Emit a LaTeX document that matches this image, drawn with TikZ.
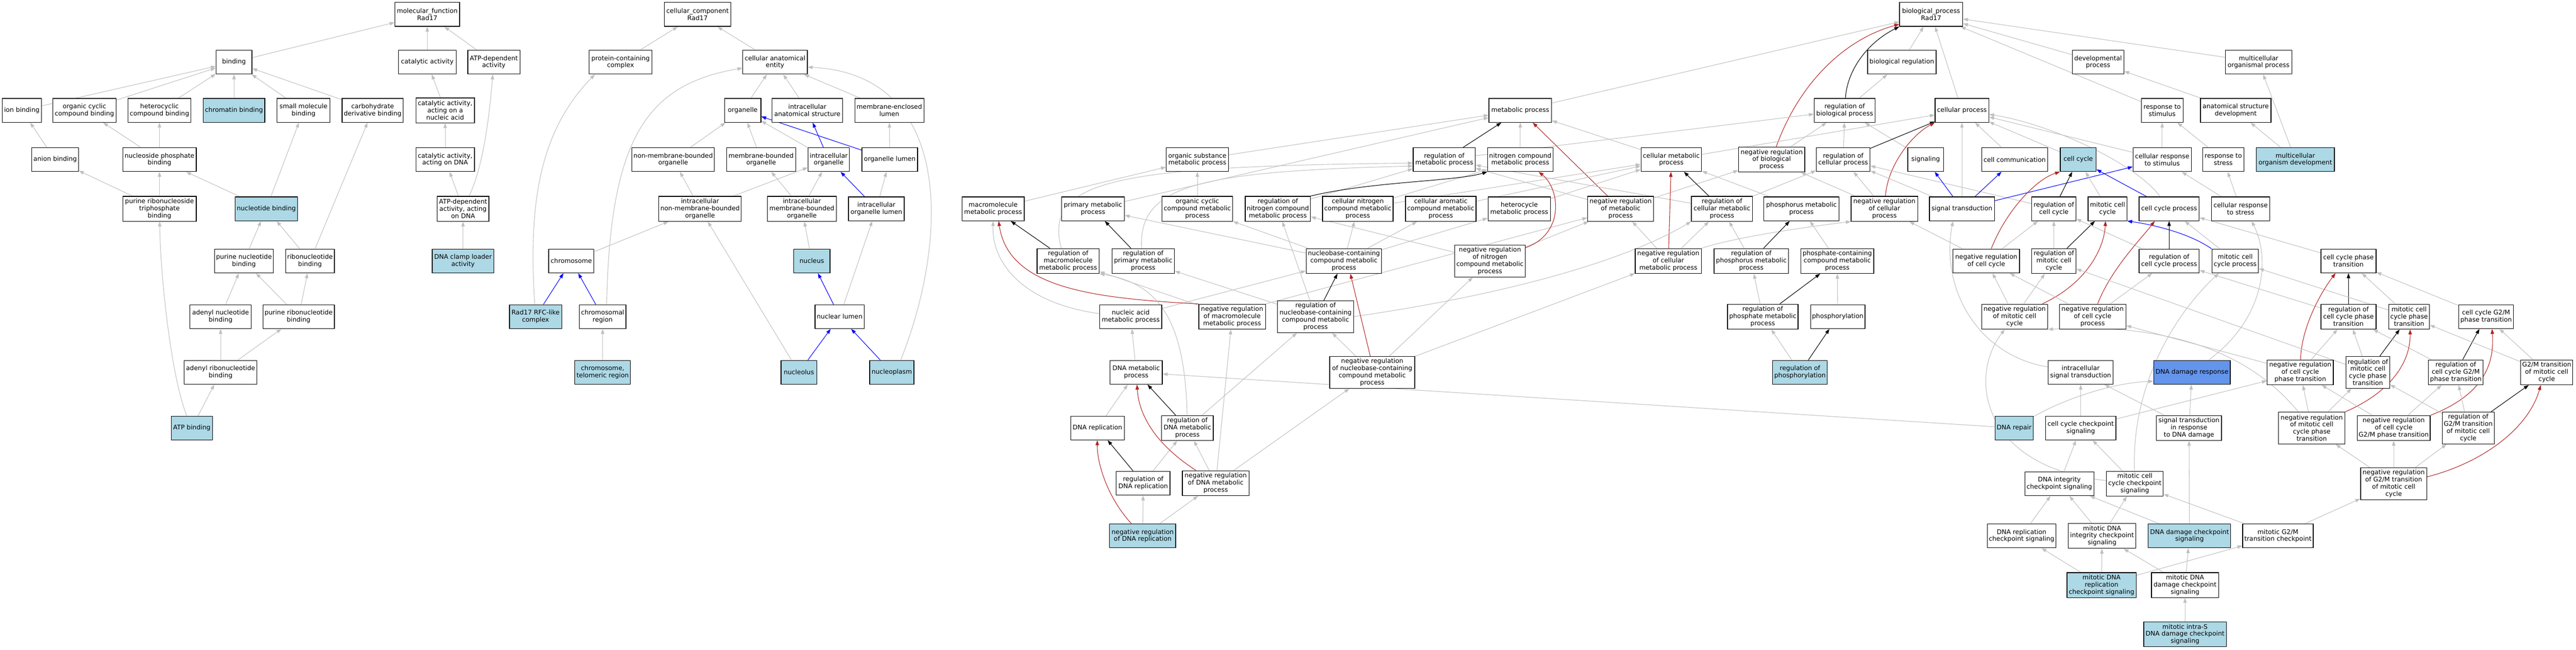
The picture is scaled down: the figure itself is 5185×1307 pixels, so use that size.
\documentclass[tikz,border=0pt]{standalone}
\usepackage{fontspec}
\setmainfont{DejaVu Sans}
\usepackage{tikz}
\usetikzlibrary{arrows.meta}
\usetikzlibrary{backgrounds}
\usetikzlibrary{positioning}
\definecolor{edgegray}{HTML}{C0C0C0}
\definecolor{hitblue}{HTML}{ADD8E6}
\definecolor{ddrblue}{HTML}{6495ED}
\definecolor{negred}{HTML}{B22222}
\newcommand{\gofont}{\fontsize{12.8}{14.4}\selectfont}
\tikzset{
  term/.style={draw, rectangle, fill=white, line width=1.3pt, align=center, font=\gofont,
    minimum height=48pt, inner xsep=3pt, inner ysep=3pt},
  hit/.style={term, fill=hitblue},
  wd/.style={minimum width=#1pt},
  three/.style={minimum height=50pt},
  four/.style={minimum height=64pt},
  isa/.style={draw=edgegray, line width=1.1pt, -{Triangle[length=10pt,width=7pt]}},
  partof/.style={isa, draw=blue},
  regs/.style={isa, draw=black},
  negregs/.style={isa, draw=negred}
}
\begin{document}
\begin{tikzpicture}[x=1pt, y=-1pt]
  \useasboundingbox (0,0) rectangle (5185,1307);

  % molecular function
  \node[term, wd=130] (mf) at (860,29) {molecular\_function\\Rad17};
  \node[term, wd=72] (binding) at (471,125) {binding};
  \node[term, wd=116] (catact) at (860,125) {catalytic activity};
  \node[term, wd=105] (atpdep) at (994,125) {ATP-dependent\\activity};
  \node[term, wd=79] (ionb) at (44,222) {ion binding};
  \node[term, wd=127] (orgcycb) at (170,222) {organic cyclic\\compound binding};
  \node[term, wd=126] (hetcycb) at (321,222) {heterocyclic\\compound binding};
  \node[hit, wd=124] (chromb) at (471,222) {chromatin binding};
  \node[term, wd=107] (smallmolb) at (611,222) {small molecule\\binding};
  \node[term, wd=123] (carbob) at (750,222) {carbohydrate\\derivative binding};
  \node[term, three, wd=118] (catnuc) at (896,222) {catalytic activity,\\acting on a\\nucleic acid};
  \node[term, wd=94] (anionb) at (111,321) {anion binding};
  \node[term, wd=148] (nucphosb) at (321,321) {nucleoside phosphate\\binding};
  \node[term, wd=118] (catdna) at (896,321) {catalytic activity,\\acting on DNA};
  \node[term, three, wd=148] (purtrib) at (321,420) {purine ribonucleoside\\triphosphate\\binding};
  \node[hit, wd=126] (nucleotideb) at (536,420) {nucleotide binding};
  \node[term, three, wd=104] (atpdna) at (932,420) {ATP-dependent\\activity, acting\\on DNA};
  \node[term, wd=118] (purnucb) at (491,525) {purine nucleotide\\binding};
  \node[term, wd=98] (ribonucb) at (624,525) {ribonucleotide\\binding};
  \node[hit, wd=124] (clamp) at (932,525) {DNA clamp loader\\activity};
  \node[term, wd=123] (adenylb) at (444,637) {adenyl nucleotide\\binding};
  \node[term, wd=144] (purribob) at (601,637) {purine ribonucleotide\\binding};
  \node[term, wd=146] (adenribob) at (444,749) {adenyl ribonucleotide\\binding};
  \node[hit, wd=83] (atpb) at (386,861) {ATP binding};

  % cellular component
  \node[term, wd=134] (cc) at (1404,29) {cellular\_component\\Rad17};
  \node[term, wd=126] (protcomp) at (1249,125) {protein-containing\\complex};
  \node[term, wd=130] (cae) at (1560,125) {cellular anatomical\\entity};
  \node[term, wd=73] (organelle) at (1495,222) {organelle};
  \node[term, wd=142] (ias) at (1625,222) {intracellular\\anatomical structure};
  \node[term, wd=139] (mel) at (1790,222) {membrane-enclosed\\lumen};
  \node[term, wd=166] (nmbo) at (1355,321) {non-membrane-bounded\\organelle};
  \node[term, wd=139] (mbo) at (1532,321) {membrane-bounded\\organelle};
  \node[term, wd=83] (intorg) at (1668,321) {intracellular\\organelle};
  \node[term, wd=112] (orglumen) at (1791,321) {organelle lumen};
  \node[term, three, wd=166] (inmbo) at (1409,420) {intracellular\\non-membrane-bounded\\organelle};
  \node[term, three, wd=139] (imbo) at (1614,420) {intracellular\\membrane-bounded\\organelle};
  \node[term, wd=112] (iol) at (1764,420) {intracellular\\organelle lumen};
  \node[term, wd=91] (chromosome) at (1150,525) {chromosome};
  \node[hit, wd=73] (nucleus) at (1634,525) {nucleus};
  \node[hit, wd=105] (rfc) at (1078,637) {Rad17 RFC-like\\complex};
  \node[term, wd=94] (chromreg) at (1213,637) {chromosomal\\region};
  \node[term, wd=99] (nuclumen) at (1690,637) {nuclear lumen};
  \node[hit, wd=112] (telomeric) at (1213,749) {chromosome,\\telomeric region};
  \node[hit, wd=72] (nucleolus) at (1608,749) {nucleolus};
  \node[hit, wd=89] (nucleoplasm) at (1795,749) {nucleoplasm};

  % biological process
  \node[term, wd=127] (bp) at (3887,29) {biological\_process\\Rad17};
  \node[term, wd=138] (bioreg) at (3828,125) {biological regulation};
  \node[term, wd=104] (devproc) at (4223,125) {developmental\\process};
  \node[term, wd=134] (mop) at (4546,125) {multicellular\\organismal process};
  \node[term, wd=126] (metab) at (3060,222) {metabolic process};
  \node[term, wd=123] (regbp) at (3713,222) {regulation of\\biological process};
  \node[term, wd=108] (cellproc) at (3949,222) {cellular process};
  \node[term, wd=84] (respstim) at (4352,222) {response to\\stimulus};
  \node[term, wd=142] (asd) at (4500,222) {anatomical structure\\development};
  \node[term, wd=125] (osmp) at (2410,321) {organic substance\\metabolic process};
  \node[term, wd=125] (regmp) at (2907,321) {regulation of\\metabolic process};
  \node[term, wd=131] (ncmp) at (3060,321) {nitrogen compound\\metabolic process};
  \node[term, wd=122] (cmp) at (3364,321) {cellular metabolic\\process};
  \node[term, three, wd=133] (nrbp) at (3566,321) {negative regulation\\of biological\\process};
  \node[term, wd=108] (regcp) at (3710,321) {regulation of\\cellular process};
  \node[term, wd=72] (signaling) at (3876,321) {signaling};
  \node[term, wd=133] (cellcomm) at (4055,321) {cell communication};
  \node[hit, wd=72] (cellcycle) at (4183,321) {cell cycle};
  \node[term, wd=117] (crstim) at (4352,321) {cellular response\\to stimulus};
  \node[term, wd=83] (respstress) at (4475,321) {response to\\stress};
  \node[hit, wd=157] (mod) at (4620,321) {multicellular\\organism development};

  \node[term, wd=125] (mmp) at (1999,420) {macromolecule\\metabolic process};
  \node[term, wd=126] (pmp) at (2200,420) {primary metabolic\\process};
  \node[term, three, wd=142] (occmp) at (2410,420) {organic cyclic\\compound metabolic\\process};
  \node[term, three, wd=131] (regncmp) at (2572,420) {regulation of\\nitrogen compound\\metabolic process};
  \node[term, three, wd=142] (cncmp) at (2733,420) {cellular nitrogen\\compound metabolic\\process};
  \node[term, three, wd=142] (cacmp) at (2900,420) {cellular aromatic\\compound metabolic\\process};
  \node[term, wd=126] (hetmp) at (3058,420) {heterocycle\\metabolic process};
  \node[term, three, wd=133] (nrmp) at (3262,420) {negative regulation\\of metabolic\\process};
  \node[term, three, wd=123] (regcmp) at (3466,420) {regulation of\\cellular metabolic\\process};
  \node[term, wd=151] (phosmp) at (3626,420) {phosphorus metabolic\\process};
  \node[term, three, wd=134] (nrcp) at (3793,420) {negative regulation\\of cellular\\process};
  \node[term, wd=131] (sigtrans) at (3949,420) {signal transduction};
  \node[term, wd=89] (regcc) at (4134,420) {regulation of\\cell cycle};
  \node[term, wd=78] (mcc) at (4242,420) {mitotic cell\\cycle};
  \node[term, wd=121] (ccp) at (4366,420) {cell cycle process};
  \node[term, wd=117] (crstress) at (4510,420) {cellular response\\to stress};

  \node[term, three, wd=125] (regmmp) at (2150,525) {regulation of\\macromolecule\\metabolic process};
  \node[term, three, wd=126] (regpmp) at (2301,525) {regulation of\\primary metabolic\\process};
  \node[term, three, wd=152] (nbcmp) at (2705,525) {nucleobase-containing\\compound metabolic\\process};
  \node[term, four, wd=142] (nrncmp) at (2999,525) {negative regulation\\of nitrogen\\compound metabolic\\process};
  \node[term, three, wd=133] (nrcmp) at (3358,525) {negative regulation\\of cellular\\metabolic process};
  \node[term, three, wd=150] (regphosmp) at (3525,525) {regulation of\\phosphorus metabolic\\process};
  \node[term, three, wd=147] (pccmp) at (3698,525) {phosphate-containing\\compound metabolic\\process};
  \node[term, wd=134] (nrcc) at (3998,525) {negative regulation\\of cell cycle};
  \node[term, three, wd=89] (regmcc) at (4134,525) {regulation of\\mitotic cell\\cycle};
  \node[term, wd=121] (regccp) at (4366,525) {regulation of\\cell cycle process};
  \node[term, wd=94] (mccp) at (4499,525) {mitotic cell\\cycle process};
  \node[term, wd=111] (ccpt) at (4727,525) {cell cycle phase\\transition};

  \node[term, wd=125] (namp) at (2276,637) {nucleic acid\\metabolic process};
  \node[term, three, wd=134] (nrmmp) at (2480,637) {negative regulation\\of macromolecule\\metabolic process};
  \node[term, four, wd=153] (regnbcmp) at (2648,637) {regulation of\\nucleobase-containing\\compound metabolic\\process};
  \node[term, three, wd=142] (regphatemp) at (3548,637) {regulation of\\phosphate metabolic\\process};
  \node[term, wd=109] (phosphorylation) at (3699,637) {phosphorylation};
  \node[term, three, wd=133] (nrmcc) at (4055,637) {negative regulation\\of mitotic cell\\cycle};
  \node[term, three, wd=134] (nrccp) at (4212,637) {negative regulation\\of cell cycle\\process};
  \node[term, three, wd=111] (regccpt) at (4727,637) {regulation of\\cell cycle phase\\transition};
  \node[term, three, wd=82] (mccpt) at (4849,637) {mitotic cell\\cycle phase\\transition};
  \node[term, wd=110] (g2m) at (5004,637) {cell cycle G2/M\\phase transition};

  \node[term, wd=105] (dnamp) at (2287,749) {DNA metabolic\\process};
  \node[term, four, wd=171] (nrnbcmp) at (2762,749) {negative regulation\\of nucleobase-containing\\compound metabolic\\process};
  \node[hit, wd=110] (regphos) at (3623,749) {regulation of\\phosphorylation};
  \node[term, wd=131] (ist) at (4188,749) {intracellular\\signal transduction};
  \node[term, fill=ddrblue, wd=154] (ddr) at (4412,749) {DNA damage response};
  \node[term, three, wd=133] (nrccpt) at (4630,749) {negative regulation\\of cell cycle\\phase transition};
  \node[term, four, wd=88] (regmccpt) at (4766,749) {regulation of\\mitotic cell\\cycle phase\\transition};
  \node[term, three, wd=110] (regg2m) at (4943,749) {regulation of\\cell cycle G2/M\\phase transition};
  \node[term, three, wd=105] (g2mmcc) at (5126,749) {G2/M transition\\of mitotic cell\\cycle};

  \node[term, wd=108] (dnarep) at (2209,861) {DNA replication};
  \node[term, three, wd=104] (regdnamp) at (2390,861) {regulation of\\DNA metabolic\\process};
  \node[hit, wd=77] (dnarepair) at (4054,861) {DNA repair};
  \node[term, wd=142] (cccs) at (4188,861) {cell cycle checkpoint\\signaling};
  \node[term, three, wd=131] (stdd) at (4406,861) {signal transduction\\in response\\to DNA damage};
  \node[term, four, wd=134] (nrmccpt) at (4653,861) {negative regulation\\of mitotic cell\\cycle phase\\transition};
  \node[term, three, wd=147] (nrg2m) at (4818,861) {negative regulation\\of cell cycle\\G2/M phase transition};
  \node[term, four, wd=105] (regg2mmcc) at (4968,861) {regulation of\\G2/M transition\\of mitotic cell\\cycle};

  \node[term, wd=108] (regdnarep) at (2301,972) {regulation of\\DNA replication};
  \node[term, three, wd=134] (nrdnamp) at (2447,972) {negative regulation\\of DNA metabolic\\process};
  \node[term, wd=139] (dics) at (4145,973) {DNA integrity\\checkpoint signaling};
  \node[term, three, wd=114] (mcccs) at (4297,973) {mitotic cell\\cycle checkpoint\\signaling};
  \node[term, four, wd=133] (nrg2mmcc) at (4818,973) {negative regulation\\of G2/M transition\\of mitotic cell\\cycle};

  \node[hit, wd=133] (nrdnarep) at (2300,1078) {negative regulation\\of DNA replication};
  \node[term, wd=137] (drcs) at (4069,1078) {DNA replication\\checkpoint signaling};
  \node[term, three, wd=136] (mdics) at (4231,1078) {mitotic DNA\\integrity checkpoint\\signaling};
  \node[hit, wd=166] (ddcs) at (4407,1078) {DNA damage checkpoint\\signaling};
  \node[term, wd=142] (mg2mcp) at (4585,1078) {mitotic G2/M\\transition checkpoint};

  \node[hit, three, wd=139] (mdrcs) at (4230,1177) {mitotic DNA\\replication\\checkpoint signaling};
  \node[term, three, wd=135] (mddcs) at (4398,1177) {mitotic DNA\\damage checkpoint\\signaling};
  \node[hit, three, wd=166] (mintras) at (4398,1276) {mitotic intra-S\\DNA damage checkpoint\\signaling};

  \begin{scope}[on background layer]
  % molecular function edges
  \draw[isa] (binding) -- (mf);
  \draw[isa] (catact) -- (mf);
  \draw[isa] (atpdep) -- (mf);
  \draw[isa] (ionb) -- (binding);
  \draw[isa] (orgcycb) -- (binding);
  \draw[isa] (hetcycb) -- (binding);
  \draw[isa] (chromb) -- (binding);
  \draw[isa] (smallmolb) -- (binding);
  \draw[isa] (carbob) -- (binding);
  \draw[isa] (anionb) -- (ionb);
  \draw[isa] (nucphosb) -- (orgcycb);
  \draw[isa] (nucphosb) -- (hetcycb);
  \draw[isa] (purtrib) -- (anionb);
  \draw[isa] (purtrib) -- (nucphosb);
  \draw[isa] (nucleotideb) -- (nucphosb);
  \draw[isa] (nucleotideb) -- (smallmolb);
  \draw[isa] (purnucb) -- (nucleotideb);
  \draw[isa] (ribonucb) -- (nucleotideb);
  \draw[isa] (ribonucb) -- (carbob);
  \draw[isa] (adenylb) -- (purnucb);
  \draw[isa] (purribob) -- (purnucb);
  \draw[isa] (purribob) -- (ribonucb);
  \draw[isa] (adenribob) -- (adenylb);
  \draw[isa] (adenribob) -- (purribob);
  \draw[isa] (atpb) -- (adenribob);
  \draw[isa] (atpb) .. controls (345,760) and (323,560) .. (purtrib);
  \draw[isa] (catnuc) -- (catact);
  \draw[isa] (catdna) -- (catnuc);
  \draw[isa] (atpdna) -- (catdna);
  \draw[isa] (atpdna) .. controls (975,330) and (986,220) .. (atpdep);
  \draw[isa] (clamp) -- (atpdna);

  % cellular component edges
  \draw[isa] (protcomp) -- (cc);
  \draw[isa] (cae) -- (cc);
  \draw[isa] (organelle) -- (cae);
  \draw[isa] (ias) -- (cae);
  \draw[isa] (mel) -- (cae);
  \draw[isa] ([xshift=18pt]nucleoplasm.north) .. controls (1910,480) and (1920,150) .. ([yshift=-10pt]cae.east);
  \draw[isa] (nmbo) -- (organelle);
  \draw[isa] (mbo) -- (organelle);
  \draw[isa] (intorg) -- (organelle);
  \draw[partof] (intorg) -- (ias);
  \draw[partof] (orglumen) -- (organelle);
  \draw[isa] (orglumen) -- (mel);
  \draw[isa] (inmbo) -- (nmbo);
  \draw[isa] (inmbo) -- (intorg);
  \draw[isa] (imbo) -- (mbo);
  \draw[isa] (imbo) -- (intorg);
  \draw[partof] (iol) -- (intorg);
  \draw[isa] (iol) -- (orglumen);
  \draw[isa] (chromosome) -- (inmbo);
  \draw[isa] (nucleus) -- (imbo);
  \draw[partof] (rfc) -- (chromosome);
  \draw[isa] (rfc) .. controls (1062,400) and (1090,260) .. ([xshift=12pt]protcomp.south west);
  \draw[partof] (chromreg) -- (chromosome);
  \draw[isa] ([xshift=8pt]chromreg.north) .. controls (1228,280) and (1300,170) .. ([yshift=-12pt]cae.west);
  \draw[partof] (nuclumen) -- (nucleus);
  \draw[isa] (nuclumen) -- (iol);
  \draw[isa] (telomeric) -- (chromreg);
  \draw[partof] (nucleolus) -- (nuclumen);
  \draw[isa] (nucleolus) -- (inmbo);
  \draw[partof] (nucleoplasm) -- (nuclumen);

  % biological process edges
  \draw[isa] (bioreg) -- (bp);
  \draw[isa] (cellproc) -- (bp);
  \draw[isa] (devproc) -- (bp);
  \draw[isa] (respstim) -- (bp);
  \draw[isa] (mop) -- (bp);
  \draw[isa] (metab) -- (bp);
  \draw[regs] (regbp) .. controls (3718,140) and (3760,85) .. (bp.south west);
  \draw[negregs] (nrbp) .. controls (3620,170) and (3710,80) .. ([yshift=5pt]bp.south west);
  \draw[isa] (regbp) -- (bioreg);
  \draw[isa] (nrbp) -- (regbp);
  \draw[isa] (regmp) -- (regbp);
  \draw[isa] (regcp) -- (regbp);
  \draw[isa] (signaling) -- (regbp);
  \draw[regs] (regcp) -- (cellproc);
  \draw[negregs] (nrcp) .. controls (3800,330) and (3850,270) .. (cellproc.south west);
  \draw[isa] (cmp) -- (cellproc);
  \draw[isa] (sigtrans) -- (cellproc);
  \draw[isa] (cellcomm) -- (cellproc);
  \draw[isa] (cellcycle) -- (cellproc);
  \draw[isa] (crstim) -- (cellproc);
  \draw[isa] (ccp) .. controls (4300,330) and (4130,250) .. ([yshift=-8pt]cellproc.east);
  \draw[isa] (osmp) -- (metab);
  \draw[isa] (pmp) -- (metab);
  \draw[isa] (ncmp) -- (metab);
  \draw[isa] (cmp) -- (metab);
  \draw[regs] (regmp) -- (metab);
  \draw[negregs] (nrmp) -- (metab);
  \draw[isa] (nrmp) -- (regmp);
  \draw[isa] (regcmp) -- (regmp);
  \draw[isa] ([xshift=-14pt]regmmp.north) .. controls (2100,360) and (2250,335) .. ([yshift=-7pt]regmp.west);
  \draw[isa] ([xshift=-3pt]regpmp.north) .. controls (2290,370) and (2420,345) .. ([yshift=-13pt]regmp.west);
  \draw[isa] (regncmp) -- (regmp);
  \draw[isa] (nrmp) -- (nrbp);
  \draw[isa] (nrcp) -- (nrbp);
  \draw[isa] (regcc) -- (regcp);
  \draw[isa] (sigtrans) -- (regcp);
  \draw[isa] (nrcp) -- (regcp);
  \draw[isa] (regcmp) -- (regcp);
  \draw[isa] (crstim) -- (respstim);
  \draw[isa] (respstress) -- (respstim);
  \draw[isa] (asd) -- (devproc);
  \draw[isa] (mod) -- (asd);
  \draw[isa] (mod) -- (mop);
  \draw[isa] (crstress) -- (crstim);
  \draw[isa] (crstress) -- (respstress);
  \draw[isa] (mmp) -- (osmp);
  \draw[isa] (occmp) -- (osmp);
  \draw[isa] (cncmp) -- (ncmp);
  \draw[isa] (cncmp) -- (cmp);
  \draw[isa] (cacmp) -- (cmp);
  \draw[isa] (hetmp) -- (cmp);
  \draw[isa] (phosmp) -- (cmp);
  \draw[regs] (regcmp) -- (cmp);
  \draw[regs] (regncmp.north east) .. controls (2760,365) and (2930,365) .. (ncmp.south west);
  \draw[negregs] (nrcmp) -- (cmp);
  \draw[isa] (nrcmp) -- (nrmp);
  \draw[isa] (nrcmp) -- (regcmp);
  \draw[isa] (nrcmp.north east) .. controls (3500,475) and (3650,455) .. (nrcp.south west);
  \draw[isa] (regphosmp) -- (regcmp);
  \draw[regs] (regphosmp) -- (phosmp);
  \draw[isa] (pccmp) -- (phosmp);
  \draw[regs] (regmmp) -- (mmp);
  \draw[regs] (regpmp) -- (pmp);
  \draw[isa] (nbcmp) -- (cncmp);
  \draw[isa] (nbcmp) -- (cacmp);
  \draw[isa] (nbcmp) -- (hetmp);
  \draw[isa] (nbcmp) -- (occmp);
  \draw[isa] (nbcmp) -- (pmp);
  \draw[isa] (namp) -- (nbcmp);
  \draw[isa] ([yshift=6pt]namp.west) .. controls (2060,610) and (1996,530) .. (mmp.south);
  \draw[isa] (nrmmp) -- (regmmp);
  \draw[isa] (nrmmp.north east) -- (nrmp);
  \draw[negregs] (nrmmp.north west) .. controls (2200,600) and (2030,580) .. ([xshift=11pt]mmp.south);
  \draw[regs] (regnbcmp) -- (nbcmp);
  \draw[isa] (regnbcmp) -- (regncmp);
  \draw[isa] (regnbcmp) -- (regpmp);
  \draw[isa] (regnbcmp.east) .. controls (3050,590) and (3280,520) .. (regcmp.south west);
  \draw[isa] (nrncmp) -- (nrmp);
  \draw[isa] (nrncmp) -- (regncmp);
  \draw[negregs] ([yshift=-6pt]nrncmp.north east) .. controls (3150,470) and (3140,380) .. ([xshift=37pt]ncmp.south);
  \draw[isa] (regphatemp) -- (regphosmp);
  \draw[regs] (regphatemp) -- (pccmp);
  \draw[isa] (phosphorylation) -- (pccmp);
  \draw[isa] (regphos) -- (regphatemp);
  \draw[regs] (regphos) -- (phosphorylation);
  \draw[isa] (nrnbcmp) -- (regnbcmp);
  \draw[isa] (nrnbcmp) -- (nrncmp);
  \draw[isa] (nrnbcmp) -- (nrcmp);
  \draw[negregs] ([xshift=-4pt]nrnbcmp.north) -- ([xshift=13pt]nbcmp.south);
  \draw[isa] (dnamp) -- (namp);
  \draw[isa] (dnarep) -- (dnamp);
  \draw[regs] (regdnamp) -- (dnamp);
  \draw[isa] (regdnamp) -- (regnbcmp);
  \draw[isa] (regdnamp) .. controls (2385,640) and (2330,570) .. (regmmp.south east);
  \draw[regs] (regdnarep) -- (dnarep);
  \draw[isa] (regdnarep) -- (regdnamp);
  \draw[isa] (nrdnamp) -- (regdnamp);
  \draw[isa] (nrdnamp) -- (nrmmp);
  \draw[isa] (nrdnamp) -- (nrnbcmp);
  \draw[negregs] (nrdnamp) .. controls (2320,890) and (2292,830) .. (dnamp);
  \draw[isa] (nrdnarep) -- (regdnarep);
  \draw[isa] (nrdnarep) -- (nrdnamp);
  \draw[negregs] (nrdnarep) .. controls (2228,1000) and (2208,930) .. (dnarep);
  \draw[isa] (dnarepair) -- (dnamp);
  \draw[isa] (dnarepair) .. controls (4150,805) and (4250,770) .. ([yshift=-18pt]ddr.west);

  % cell cycle and signalling edges
  \draw[partof] (sigtrans) -- (signaling);
  \draw[partof] (sigtrans) -- (cellcomm);
  \draw[partof] (sigtrans) -- (crstim);
  \draw[partof] (ccp) -- (cellcycle);
  \draw[isa] (mcc) -- (cellcycle);
  \draw[regs] (regcc) -- (cellcycle);
  \draw[negregs] (nrcc) .. controls (4040,420) and (4100,360) .. (cellcycle.south west);
  \draw[isa] (nrcc) -- (regcc);
  \draw[isa] (nrcc) -- (nrcp);
  \draw[regs] (regmcc) -- (mcc);
  \draw[isa] (regmcc) -- (regcc);
  \draw[regs] (regccp) -- (ccp);
  \draw[isa] (regccp) -- (regcc);
  \draw[isa] (mccp) -- (ccp);
  \draw[partof] (mccp.north west) .. controls (4400,465) and (4320,450) .. (mcc.south east);
  \draw[negregs] (nrmcc) .. controls (4200,570) and (4235,500) .. ([xshift=-4pt]mcc.south);
  \draw[isa] (nrmcc) -- (nrcc);
  \draw[isa] (nrmcc) -- (regmcc);
  \draw[negregs] (nrccp) .. controls (4250,540) and (4310,480) .. ([xshift=-29pt]ccp.south);
  \draw[isa] (nrccp) -- (nrcc);
  \draw[isa] (nrccp) -- (regccp);
  \draw[isa] (ccpt) -- (ccp);
  \draw[regs] (regccpt) -- (ccpt);
  \draw[isa] (regccpt) -- (regccp);
  \draw[isa] (mccpt) -- (ccpt);
  \draw[isa] (mccpt) -- (mccp);
  \draw[isa] (g2m) -- (ccpt);
  \draw[negregs] (nrccpt) .. controls (4632,660) and (4670,590) .. ([xshift=-26pt]ccpt.south);
  \draw[isa] (nrccpt) -- (regccpt);
  \draw[isa] (nrccpt) -- (nrccp);
  \draw[regs] (regmccpt) -- (mccpt);
  \draw[isa] (regmccpt) -- (regccpt);
  \draw[isa] (regmccpt) -- (regmcc);
  \draw[regs] (regg2m) -- (g2m);
  \draw[isa] (regg2m) -- (regccpt);
  \draw[isa] (g2mmcc) -- (g2m);
  \draw[isa] (g2mmcc) -- (mccpt);
  \draw[negregs] (nrmccpt.north east) .. controls (4810,790) and (4852,730) .. ([xshift=2pt]mccpt.south);
  \draw[isa] (nrmccpt) -- (nrccpt);
  \draw[isa] (nrmccpt) -- (regmccpt);
  \draw[isa] (nrmccpt) .. controls (4520,700) and (4350,650) .. (nrmcc.south east);
  \draw[negregs] (nrg2m.north east) .. controls (5010,790) and (5020,720) .. ([xshift=12pt]g2m.south);
  \draw[isa] (nrg2m) -- (regg2m);
  \draw[isa] (nrg2m) -- (nrccpt);
  \draw[regs] (regg2mmcc) -- (g2mmcc);
  \draw[isa] (regg2mmcc) -- (regg2m);
  \draw[isa] (regg2mmcc) -- (regmccpt);
  \draw[negregs] ([yshift=-19pt]nrg2mmcc.north east) .. controls (5000,930) and (5090,860) .. ([xshift=-12pt]g2mmcc.south);
  \draw[isa] (nrg2mmcc) -- (nrmccpt);
  \draw[isa] (nrg2mmcc) -- (nrg2m);
  \draw[isa] (nrg2mmcc) -- (regg2mmcc);
  \draw[isa] (ddr) .. controls (4560,640) and (4570,520) .. ([xshift=22pt]crstress.south);
  \draw[isa] (ist) .. controls (3980,715) and (3905,580) .. ([xshift=-18pt]sigtrans.south);
  \draw[isa] (stdd) -- (ddr);
  \draw[isa] (stdd) -- (ist);
  \draw[isa] (cccs) -- (ist);
  \draw[isa] (cccs) -- (nrccpt);
  \draw[isa] (dics) -- (cccs);
  \draw[isa] (mcccs) -- (cccs);
  \draw[isa] (mcccs) .. controls (3990,940) and (3960,760) .. (nrmcc);
  \draw[isa] (mcccs) .. controls (4290,760) and (4390,620) .. ([xshift=-33pt]mccp.south);
  \draw[isa] (drcs) -- (dics);
  \draw[isa] (mdics) -- (dics);
  \draw[isa] (mdics) -- (mcccs);
  \draw[isa] (ddcs) -- (dics);
  \draw[isa] (ddcs) -- (stdd);
  \draw[isa] (mg2mcp) -- (mcccs);
  \draw[isa] (mg2mcp) -- (nrg2mmcc);
  \draw[isa] (mdrcs) -- (drcs);
  \draw[isa] (mdrcs) -- (mdics);
  \draw[isa] (mdrcs) -- (mg2mcp);
  \draw[isa] (mddcs) -- (ddcs);
  \draw[isa] (mddcs) -- (mdics);
  \draw[isa] (mintras) -- (mddcs);
  \end{scope}
\end{tikzpicture}
\end{document}
